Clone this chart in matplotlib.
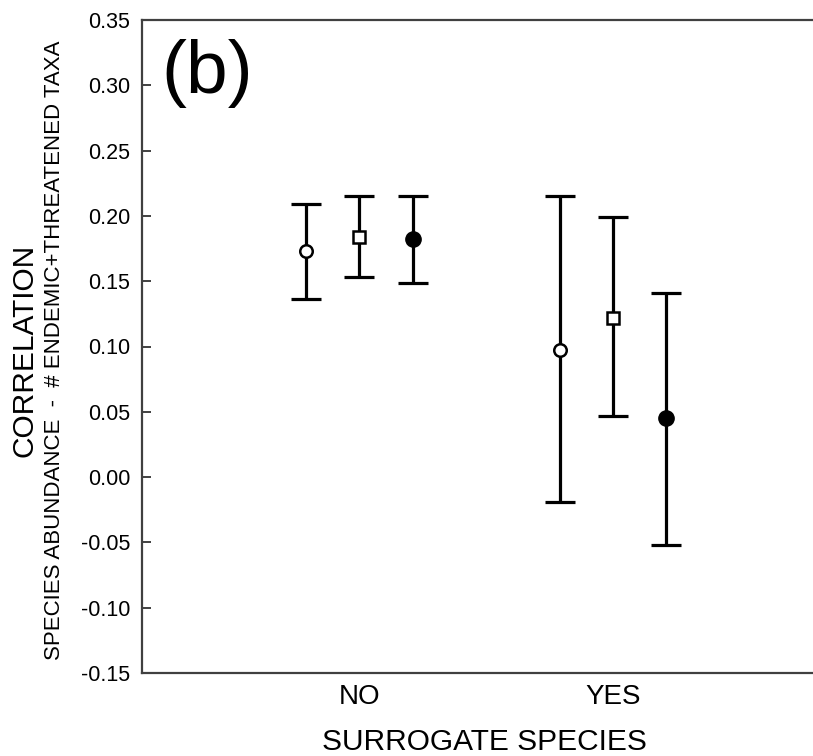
import matplotlib
matplotlib.use("Agg")
import matplotlib.pyplot as plt
import numpy as np

plt.rcParams['font.family'] = ['Liberation Sans', 'DejaVu Sans']

groups = ["NO", "YES"]
series = ["open circle", "open square", "filled circle"]
# mean, lower, upper for each series per group
means = {
    "open circle":   [0.173, 0.097],
    "open square":   [0.184, 0.122],
    "filled circle": [0.182, 0.045],
}
lowers = {
    "open circle":   [0.136, -0.019],
    "open square":   [0.153, 0.047],
    "filled circle": [0.149, -0.052],
}
uppers = {
    "open circle":   [0.209, 0.215],
    "open square":   [0.215, 0.199],
    "filled circle": [0.215, 0.141],
}
yticks = [-0.15, -0.10, -0.05, 0.00, 0.05, 0.10, 0.15, 0.20, 0.25, 0.30, 0.35]

offsets = [-0.21, 0.0, 0.21]
styles = {
    "open circle":   dict(marker='o', ms=9, mfc='white', mec='black', mew=1.8),
    "open square":   dict(marker='s', ms=9, mfc='white', mec='black', mew=1.8),
    "filled circle": dict(marker='o', ms=11, mfc='black', mec='black', mew=1.0),
}

fig = plt.figure(figsize=(8.13, 7.56), dpi=100)
ax = fig.add_axes([141.7 / 813, 83 / 756, 1 - 141.7 / 813, (673 - 20) / 756])

xbase = np.arange(1, len(groups) + 1)
for s, off in zip(series, offsets):
    m = np.array(means[s])
    lo = m - np.array(lowers[s])
    hi = np.array(uppers[s]) - m
    ax.errorbar(xbase + off, m, yerr=[lo, hi], fmt='none', ecolor='black',
                elinewidth=2.3, capsize=11, capthick=2.3, zorder=2)
    ax.plot(xbase + off, m, linestyle='none', zorder=3, **styles[s])

ax.set_xlim(0.141, 2.79)
ax.set_ylim(-0.15, 0.35)
ax.set_yticks(yticks)
ax.set_yticklabels([f"{v:.2f}" for v in yticks], fontsize=15.5)
ax.set_xticks(xbase)
ax.set_xticklabels(groups, fontsize=20)
ax.tick_params(axis='y', direction='in', length=6.5, width=1.4, color='#404040', pad=8.4)
ax.tick_params(axis='x', length=0, pad=8)

for sp in ['left', 'bottom', 'top']:
    ax.spines[sp].set_linewidth(1.6)
    ax.spines[sp].set_color('#404040')
ax.spines['right'].set_visible(False)

fig.text(161 / 813, 1 - 93 / 756, "(b)", fontsize=54, ha='left', va='baseline')
fig.text(484 / 813, 1 - 750 / 756, "SURROGATE SPECIES", fontsize=21.5,
         ha='center', va='baseline')
fig.text(24 / 813, 1 - 350 / 756, "CORRELATION", fontsize=21.5, rotation=90,
         ha='center', va='center')
fig.text(55 / 813, 1 - 350 / 756, "SPECIES ABUNDANCE  -  # ENDEMIC+THREATENED TAXA",
         fontsize=16, rotation=90, ha='center', va='center')

fig.savefig("out.png", dpi=100)
